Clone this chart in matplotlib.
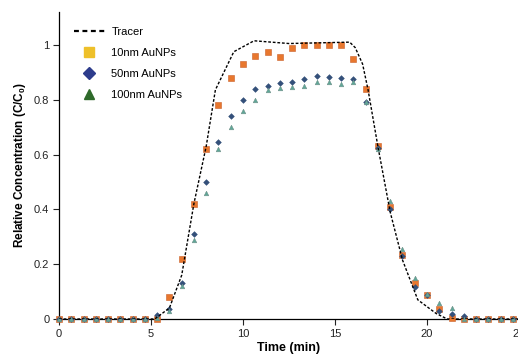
import matplotlib
matplotlib.use("Agg")
import matplotlib.pyplot as plt
from matplotlib.lines import Line2D

plt.rcParams['font.family'] = ['Liberation Sans', 'DejaVu Sans']
plt.rcParams['mathtext.fontset'] = 'custom'
plt.rcParams['mathtext.rm'] = 'Liberation Sans'
plt.rcParams['mathtext.bf'] = 'Liberation Sans:bold'

# sampling times (min), every 40 s
time = [i * 2 / 3 for i in range(38)]

au10 = [0, 0, 0, 0, 0, 0, 0, 0, 0.0, 0.08, 0.22, 0.42, 0.62, 0.78, 0.88, 0.93,
        0.96, 0.975, 0.955, 0.99, 1.0, 1.0, 1.0, 1.0, 0.95, 0.84, 0.63, 0.41,
        0.235, 0.13, 0.088, 0.035, 0.003, 0.0, 0, 0, 0, 0]
au50 = [0, 0, 0, 0, 0, 0, 0, 0, 0.015, 0.035, 0.13, 0.31, 0.50, 0.645, 0.74, 0.80,
        0.84, 0.85, 0.86, 0.865, 0.875, 0.885, 0.883, 0.88, 0.875, 0.79, 0.625, 0.40,
        0.23, 0.117, 0.088, 0.03, 0.02, 0.01, 0, 0, 0, 0]
au100 = [0, 0, 0, 0, 0, 0, 0, 0, 0.005, 0.03, 0.12, 0.29, 0.46, 0.62, 0.70, 0.76,
         0.80, 0.835, 0.843, 0.845, 0.85, 0.865, 0.865, 0.857, 0.865, 0.79, 0.62, 0.43,
         0.255, 0.15, 0.09, 0.058, 0.04, 0.0, 0, 0, 0, 0]

tracer_t = [0, 5.2, 6.0, 6.67, 7.33, 8.0, 8.5, 9.5, 10.6, 12.5, 15.8, 16.1, 16.5,
            16.8, 17.33, 18.0, 18.67, 19.5, 20.5, 21.1, 25]
tracer_c = [0, 0, 0.04, 0.16, 0.42, 0.63, 0.836, 0.975, 1.015, 1.005, 1.01, 0.99, 0.93,
            0.835, 0.63, 0.39, 0.215, 0.07, 0.02, 0.0, 0]

labels = ['Tracer', '10nm AuNPs', '50nm AuNPs', '100nm AuNPs']
xticks = [0, 5, 10, 15, 20, 25]
yticks = [0, 0.2, 0.4, 0.6, 0.8, 1]

fig = plt.figure(figsize=(5.18, 3.56), dpi=100)
ax = fig.add_axes([59 / 518, 37 / 356, 460 / 518, 307 / 356])

ax.plot(time, au10, 's', ms=3.8, color='#E8772E', mec='#C8602A', mew=0.4,
        clip_on=False, zorder=3)
ax.plot(time, au50, 'D', ms=2.9, color='#34507A', mec='#34507A', mew=0.4,
        clip_on=False, zorder=4)
ax.plot(time, au100, '^', ms=3.3, color='#5FA898', mec='#6E8F88', mew=0.4,
        clip_on=False, zorder=5)
ax.plot(tracer_t, tracer_c, color='black', lw=1.0, ls=(0, (2, 1.3)), zorder=6)

ax.set_xlim(0, 25)
ax.set_ylim(0, 1.12)
ax.set_xticks(xticks)
ax.set_xticklabels([str(v) for v in xticks])
ax.set_yticks(yticks)
ax.set_yticklabels(['0', '0.2', '0.4', '0.6', '0.8', '1'])
ax.tick_params(axis='both', direction='out', length=4.5, width=0.8, labelsize=8,
               pad=2.5, colors='#222222')
for s in ['top', 'right']:
    ax.spines[s].set_visible(False)
for s in ['left', 'bottom']:
    ax.spines[s].set_linewidth(0.9)

ax.set_xlabel('Time (min)', fontsize=9, fontweight='bold', labelpad=2)
ax.set_ylabel('Relative Concentration (C/C$_\\mathbf{0}$)', fontsize=8.5,
              fontweight='bold', labelpad=4)

handles = [
    Line2D([], [], color='black', lw=1.6, ls=(0, (2.2, 1.6))),
    Line2D([], [], marker='s', ls='none', ms=6.5, color='#EEC02A', mec='#EEC02A'),
    Line2D([], [], marker='D', ls='none', ms=6, color='#2D3C8C', mec='#2D3C8C'),
    Line2D([], [], marker='^', ls='none', ms=7, color='#2E6A2A', mec='#2E6A2A'),
]
ax.legend(handles, labels, loc='upper left', bbox_to_anchor=(0.01, 0.985),
          frameon=False, fontsize=8, handlelength=2.8, handletextpad=0.6,
          labelspacing=1.0)

fig.savefig('out.png', dpi=100)
